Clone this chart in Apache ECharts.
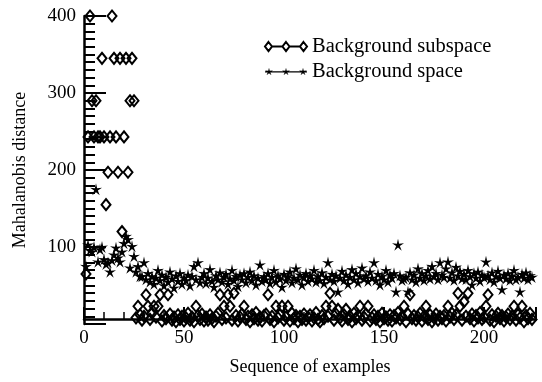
<!DOCTYPE html>
<html><head><meta charset="utf-8">
<script src="https://cdn.jsdelivr.net/npm/echarts@6/dist/echarts.min.js"></script>
<style>html,body{margin:0;padding:0;background:#fff}#c{width:542px;height:382px}</style>
</head><body><div id="c"></div>
<script>
// x tick labels
var xTicks = [0, 50, 100, 150, 200];
var yTicks = [100, 200, 300, 400];
var seriesNames = ['Background subspace', 'Background space'];
// Background subspace (diamonds), examples 1..224
var subspace = [
65,243,400,290,243,290,243,243,345,243,155,197,243,400,345,243,197,345,120,243,345,197,290,345,290,
8,23,12,5,10,
38,23,6,14,23,9,23,38,4,11,
7,38,13,5,9,3,12,6,10,4,
8,14,5,9,3,23,11,6,13,4,
9,5,12,7,3,10,14,38,6,23,
8,38,23,5,40,11,4,9,13,23,
6,10,3,12,7,15,5,9,4,11,
13,38,6,10,3,23,8,12,23,5,
9,23,4,14,7,11,3,10,6,13,
5,9,12,4,8,15,6,3,11,7,
23,10,40,23,5,13,19,8,4,12,
19,6,10,3,14,7,11,23,5,9,
13,23,4,8,12,6,10,3,14,7,
9,5,12,4,11,8,15,6,10,23,
3,13,38,7,11,5,9,14,4,10,
23,6,12,3,8,13,5,10,7,11,
4,23,9,14,6,12,40,23,5,29,
10,40,7,13,4,11,8,15,6,9,
23,38,5,12,3,10,14,7,11,4,
9,13,6,10,23,5,12,8,23,3,
11,7,14,6
];
// Background space (stars), examples 1..224
var space = [
75,103,96,94,100,175,81,97,100,84,
78,80,68,83,90,99,86,81,94,105,
114,110,73,101,88,68,75,62,62,80,
58,66,55,62,52,60,70,57,64,50,
61,55,68,59,47,63,56,66,52,60,
57,64,50,62,75,58,80,54,61,66,
53,60,71,56,48,63,58,67,55,61,
65,52,59,70,57,62,49,64,58,66,
54,61,68,57,63,51,60,77,56,62,
58,66,53,61,70,55,63,59,48,65,
57,62,68,54,60,72,58,64,51,61,
66,56,63,59,70,55,62,57,67,53,
61,80,58,65,56,63,42,60,69,57,
64,52,61,71,58,66,54,62,73,59,
63,56,68,60,80,57,65,51,62,58,
70,55,64,60,66,42,103,63,57,59,
61,42,67,58,64,55,72,60,66,57,
63,70,59,75,62,66,58,80,64,61,
72,81,60,67,57,74,63,69,59,65,
58,70,62,51,66,60,68,56,64,61,
81,63,58,67,55,62,69,60,45,64,
59,66,57,63,70,58,61,42,65,60,
67,58,63,61
];

var FONT = 'Liberation Serif';
function pairs(arr){ return arr.map(function(v,i){ return [i+1, v]; }); }
var starPath = 'path://M10 0 L11.8 7.6 L19.51 6.91 L12.9 11 L15.88 18.09 L10 13.4 L4.12 18.09 L7.1 11 L0.49 6.91 L8.2 7.6 Z';

// legend icons: line with three markers
function diamondAt(x){ return 'M' + x + ' 0.5 L' + (x + 3.5) + ' 5 L' + x + ' 9.5 L' + (x - 3.5) + ' 5 Z '; }
var subIcon = 'path://' + diamondAt(3.5) + diamondAt(21) + diamondAt(38.5) +
  'M7 5 L17.5 5 M24.5 5 L35 5';
function starAt(cx){
  var s = '', R = 4.2, r = 1.3;
  for (var k = 0; k < 10; k++) {
    var a = -Math.PI / 2 + k * Math.PI / 5, rr = (k % 2 === 0) ? R : r;
    s += (k === 0 ? 'M' : 'L') + (cx + rr * Math.cos(a)).toFixed(2) + ' ' + (5 + rr * Math.sin(a)).toFixed(2) + ' ';
  }
  return s + 'Z ';
}
var spaceIcon = 'path://' + starAt(4) + starAt(21) + starAt(38) +
  'M0 4.4 L42 4.4 L42 5.6 L0 5.6 Z';

var chart = echarts.init(document.getElementById('c'), null, {renderer:'canvas'});
chart.setOption({
  animation: false,
  backgroundColor: '#fff',
  textStyle: {fontFamily: FONT, color: '#000'},
  grid: {left: 84, right: 6, top: 16, bottom: 58, containLabel: false},
  legend: {
    orient: 'vertical', left: 259, top: 31,
    itemWidth: 42, itemHeight: 10, itemGap: 4,
    textStyle: {fontFamily: FONT, fontSize: 20.5, color: '#000'},
    data: [
      {name: seriesNames[0], icon: subIcon},
      {name: seriesNames[1], icon: spaceIcon}
    ]
  },
  xAxis: {
    type: 'value', min: 0, max: 226, interval: 50, offset: -5,
    name: 'Sequence of examples', nameLocation: 'middle', nameGap: 39,
    nameTextStyle: {fontFamily: FONT, fontSize: 18, color: '#000'},
    axisLine: {show: true, onZero: false, lineStyle: {color: '#000', width: 2.5}},
    axisTick: {show: true, inside: true, length: 12, lineStyle: {color: '#000', width: 2}},
    minorTick: {show: true, splitNumber: 5, length: 7, lineStyle: {color: '#000', width: 1.5}},
    axisLabel: {fontFamily: FONT, fontSize: 19, color: '#000', margin: 10,
      customValues: xTicks},
    splitLine: {show: false}
  },
  yAxis: {
    type: 'value', min: 0, max: 400, interval: 100,
    name: 'Mahalanobis distance', nameLocation: 'middle', nameGap: 55,
    nameTextStyle: {fontFamily: FONT, fontSize: 18, color: '#000'},
    axisLine: {show: true, lineStyle: {color: '#000', width: 2.5}},
    axisTick: {show: true, inside: true, length: 22, lineStyle: {color: '#000', width: 2}},
    minorTick: {show: true, splitNumber: 10, length: 11, lineStyle: {color: '#000', width: 2}},
    axisLabel: {fontFamily: FONT, fontSize: 19, color: '#000', margin: 8,
      formatter: function(v){ return yTicks.indexOf(v) >= 0 ? String(v) : ''; }},
    splitLine: {show: false}
  },
  series: [
    {
      name: seriesNames[0], type: 'line', data: pairs(subspace),
      symbol: 'diamond', symbolSize: [9, 11], showSymbol: true, showAllSymbol: true,
      itemStyle: {color: 'rgba(255,255,255,0)', borderColor: '#000', borderWidth: 2},
      lineStyle: {color: '#000', width: 1.6, opacity: 0},
      z: 3
    },
    {
      name: seriesNames[1], type: 'line', data: pairs(space),
      symbol: starPath, symbolSize: 12, showSymbol: true, showAllSymbol: true,
      itemStyle: {color: '#000', borderWidth: 0},
      lineStyle: {color: '#000', width: 1.2, opacity: 0},
      z: 2
    }
  ]
});
</script>
</body></html>
